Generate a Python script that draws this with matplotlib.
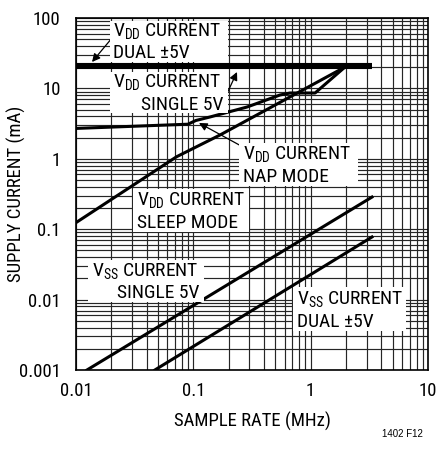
import numpy as np
import matplotlib
matplotlib.use('Agg')
import matplotlib.pyplot as plt
from matplotlib import font_manager
from matplotlib.patches import Rectangle

# pick a condensed sans face, falling back to what is surely installed
font_name = 'Liberation Sans'
for key in ['RobotoCondensed', 'PT_Sans-Narrow', 'ArchivoNarrow']:
    hits = [f for f in font_manager.fontManager.ttflist if key in f.fname]
    if hits:
        font_name = hits[0].name
        break

plt.rcParams['font.family'] = [font_name, 'DejaVu Sans']
plt.rcParams['mathtext.fontset'] = 'custom'
plt.rcParams['mathtext.rm'] = font_name

# sample rate (MHz) vs supply current (mA)
vdd_dual_x = [0.01, 3.3]
vdd_dual_y = [20.8, 20.8]

vdd_nap_x = [0.01, 0.09, 0.105, 0.139, 0.287, 0.548, 0.667, 1.09, 1.96]
vdd_nap_y = [2.7, 3.1, 3.5, 3.93, 5.44, 8.06, 8.6, 8.6, 20.1]

vdd_sleep_x = [0.01, 0.072, 0.169, 1.96]
vdd_sleep_y = [0.124, 1.07, 2.18, 20.1]

vss_single_x = [0.0124, 3.33]
vss_single_y = [0.001, 0.286]

vss_dual_x = [0.047, 3.33]
vss_dual_y = [0.001, 0.0775]

xticks = [0.01, 0.1, 1, 10]
xticklabels = ['0.01', '0.1', '1', '10']
yticks = [0.001, 0.01, 0.1, 1, 10, 100]
yticklabels = ['0.001', '0.01', '0.1', '1', '10', '100']

W, H = 436, 451


def fp(px, py):
    return (px / W, 1 - py / H)


fig = plt.figure(figsize=(W / 100, H / 100), dpi=100)
ax = fig.add_axes([76 / W, 1 - 370 / H, 352 / W, 352 / H])
ax.set_xscale('log')
ax.set_yscale('log')
ax.set_xlim(0.01, 10)
ax.set_ylim(0.001, 100)

ax.grid(which='both', color='#262626', lw=0.85)
ax.set_axisbelow(True)
ax.tick_params(which='both', length=0)
ax.tick_params(axis='x', pad=9, labelsize=13.5)
ax.tick_params(axis='y', pad=11, labelsize=13.5)
ax.set_xticks(xticks)
ax.set_xticklabels(xticklabels)
ax.set_yticks(yticks)
ax.set_yticklabels(yticklabels)
for s in ax.spines.values():
    s.set_linewidth(1.2)

ax.plot(vdd_dual_x, vdd_dual_y, color='black', lw=4.4, solid_capstyle='butt', zorder=4)
ax.plot(vdd_nap_x, vdd_nap_y, color='black', lw=2.2, zorder=4)
ax.plot(vdd_sleep_x, vdd_sleep_y, color='black', lw=2.2, zorder=4)
ax.plot(vss_single_x, vss_single_y, color='black', lw=2.2, zorder=4)
ax.plot(vss_dual_x, vss_dual_y, color='black', lw=2.2, zorder=4)

ax.set_xlabel('SAMPLE RATE (MHz)', fontsize=13.5, labelpad=8)
ax.set_ylabel('SUPPLY CURRENT (mA)', fontsize=13.5)
ax.yaxis.set_label_coords((26 - 76) / 352, 0.5)

# label boxes (pixel positions: left, top, right, bottom)
boxes = [(110, 21, 228, 62), (110, 72, 228, 113), (239, 143, 358, 186),
         (133, 189, 249, 232), (88, 260, 204, 302), (293, 287, 406, 331)]
for l, t, r, b in boxes:
    x0, y0 = fp(l, b)
    x1, y1 = fp(r, t)
    fig.add_artist(Rectangle((x0, y0), x1 - x0, y1 - y0, transform=fig.transFigure,
                             facecolor='white', edgecolor='none', zorder=3))

vdd = r'V$_{\mathrm{DD}}$ CURRENT'
vss = r'V$_{\mathrm{SS}}$ CURRENT'
texts = [
    (113, 37, vdd, 'left'), (113, 58, 'DUAL \u00b15V', 'left'),
    (113, 88, vdd, 'left'), (223, 110, 'SINGLE 5V', 'right'),
    (243, 160, vdd, 'left'), (243, 182, 'NAP MODE', 'left'),
    (137, 206, vdd, 'left'), (137, 228, 'SLEEP MODE', 'left'),
    (92, 277, vss, 'left'), (199, 298, 'SINGLE 5V', 'right'),
    (297, 305, vss, 'left'), (297, 327, 'DUAL \u00b15V', 'left'),
]
for px, py, s, ha in texts:
    fig.text(*fp(px, py), s, ha=ha, va='baseline', fontsize=14, zorder=5)

arrows = [((112, 38), (92, 62)), ((224, 100), (237, 72)), ((243, 147), (199, 123))]
for tail, tip in arrows:
    ax.annotate('', xy=fp(*tip), xycoords='figure fraction', xytext=fp(*tail),
                textcoords='figure fraction',
                arrowprops=dict(arrowstyle='-|>', color='black', lw=0.9,
                                mutation_scale=12, shrinkA=0, shrinkB=0),
                zorder=6)

fig.text(*fp(423, 437), '1402 F12', ha='right', va='baseline', fontsize=7,
         family=['Liberation Sans', 'DejaVu Sans'])

fig.savefig('out.png', dpi=100)
